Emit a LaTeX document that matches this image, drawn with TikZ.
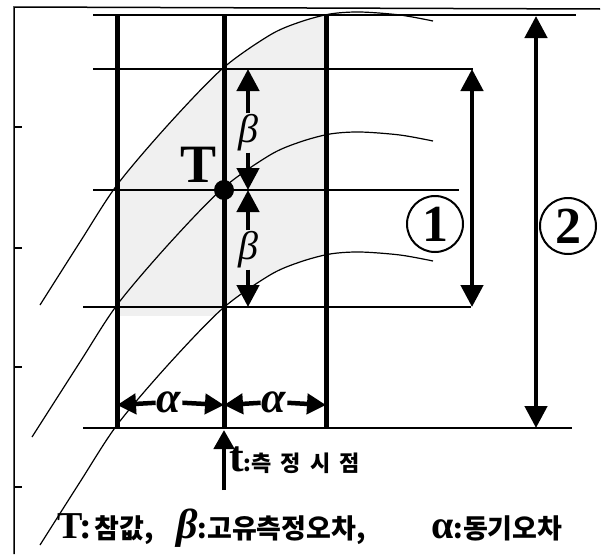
\documentclass[tikz,border=0pt]{standalone}
\usepackage{fontspec}
\setmainfont{Liberation Serif}
\newfontfamily\kr{Noto Sans CJK KR}
\usetikzlibrary{arrows.meta}
\newcommand{\kgap}{\hspace{9pt}}
\begin{document}
\begin{tikzpicture}[x=1pt,y=-1pt,
  frame/.style={line width=1.5pt},
  gridh/.style={line width=2pt},
  gridv/.style={line width=5pt},
  curve/.style={line width=1.2pt},
  arr/.style={line width=4.5pt,-{Triangle[length=22pt,width=22pt]}},
  sarr/.style={line width=4.5pt,-{Triangle[length=19pt,width=20pt]}},
  darr/.style={line width=4.5pt,{Triangle[length=22pt,width=22pt]}-{Triangle[length=22pt,width=22pt]}},
  lbl/.style={inner sep=1pt},
  circ/.style={circle,draw,line width=2pt,minimum size=56pt,inner sep=0pt}]
\useasboundingbox (0,0) rectangle (604,554);

% shading between curves
\begin{scope}
  \clip plot[smooth] coordinates {(40,305) (80,242) (117,185) (167,126) (222,69) (270,35) (300,22) (330,14) (360,12) (400,15) (433,21)} -- (433,600) -- (40,600) -- cycle;
  \clip plot[smooth] coordinates {(40,545) (80,482) (117,425) (167,366) (222,309) (270,275) (300,262) (330,254) (360,252) (400,255) (433,261)} -- (433,0) -- (40,0) -- cycle;
  \fill[black!6] (117,0) rectangle (326,316);
\end{scope}

% curves
\draw[curve] plot[smooth] coordinates {(40,305) (80,242) (117,185) (167,126) (222,69) (270,35) (300,22) (330,14) (360,12) (400,15) (433,21)};
\draw[curve] plot[smooth] coordinates {(32,437) (80,362) (117,305) (167,246) (222,189) (270,155) (300,142) (330,134) (360,132) (400,135) (433,141)};
\draw[curve] plot[smooth] coordinates {(40,545) (80,482) (117,425) (167,366) (222,309) (270,275) (300,262) (330,254) (360,252) (400,255) (433,261)};

% axis frame
\draw[frame] (14,554) -- (14,7) -- (600,9);
\foreach \yy in {127,248,367,487} \draw[frame] (14,\yy) -- (22,\yy);

% horizontal grid
\draw[gridh] (93,15) -- (576,15);
\draw[gridh] (93,69) -- (473,69);
\draw[gridh] (93,190) -- (459,190);
\draw[gridh] (83,307) -- (471,307);
\draw[gridh] (83,428) -- (572,428);

% vertical grid
\draw[gridv] (117,15) -- (117,428);
\draw[gridv] (224,15) -- (224,428);
\draw[gridv] (326,15) -- (326,428);

% T point
\node[circle,fill,inner sep=0pt,minimum size=20pt] (Tdot) at (224,190) {};
\node[anchor=base,inner sep=0pt] (Tl) at (199,182) {\bfseries\fontsize{54}{54}\selectfont T};

% beta arrows
\coordinate (b1t) at (248,69);
\coordinate (b1b) at (248,190);
\coordinate (b2t) at (248,190);
\coordinate (b2b) at (248,307);
\node[lbl] (b1) at (248,133) {\fontsize{40}{40}\selectfont\itshape β};
\node[lbl] (b2) at (248,250) {\fontsize{40}{40}\selectfont\itshape β};
\draw[arr] (b1) -- (b1t);
\draw[arr] (b1) -- (b1b);
\draw[arr] (b2) -- (b2t);
\draw[arr] (b2) -- (b2b);

% alpha arrows
\coordinate (a1l) at (117,405);
\coordinate (a1r) at (224,405);
\coordinate (a2l) at (224,405);
\coordinate (a2r) at (326,405);
\node[lbl] (a1) at (169,402) {\bfseries\itshape\fontsize{44}{44}\selectfont α};
\node[lbl] (a2) at (274,402) {\bfseries\itshape\fontsize{44}{44}\selectfont α};
\draw[sarr] (a1) -- (a1l);
\draw[sarr] (a1) -- (a1r);
\draw[sarr] (a2) -- (a2l);
\draw[sarr] (a2) -- (a2r);

% range arrows
\coordinate (r1t) at (472,69);
\coordinate (r1b) at (472,307);
\coordinate (r2t) at (536,16);
\coordinate (r2b) at (536,428);
\draw[darr] (r1t) -- (r1b);
\draw[darr] (r2t) -- (r2b);
\node[circ] (c1) at (435,224) {\bfseries\fontsize{52}{52}\selectfont 1};
\node[circ] (c2) at (568,226) {\bfseries\fontsize{52}{52}\selectfont 2};

% t arrow
\coordinate (tb) at (224,490);
\coordinate (tt) at (224,430);
\draw[sarr] (tb) -- (tt);
\node[anchor=base west,inner sep=0pt] (tl) at (229,471) {{\bfseries\fontsize{44}{44}\selectfont t}{\kr\bfseries\fontsize{22}{22}\selectfont :측\kgap 정\kgap 시\kgap 점}};

% legend
\node[anchor=base west,inner sep=0pt] (lg1) at (57,538) {{\bfseries\fontsize{38}{38}\selectfont T:} {\kr\bfseries\fontsize{27}{27}\selectfont 참값,}};
\node[anchor=base west,inner sep=0pt] (lg2) at (176,538) {{\bfseries\itshape\fontsize{42}{42}\selectfont β}{\kr\bfseries\fontsize{27}{27}\selectfont :고유측정오차,}};
\node[anchor=base west,inner sep=0pt] (lg3) at (431,538) {{\bfseries\fontsize{40}{40}\selectfont α}{\kr\bfseries\fontsize{27}{27}\selectfont :동기오차}};
\end{tikzpicture}
\end{document}
